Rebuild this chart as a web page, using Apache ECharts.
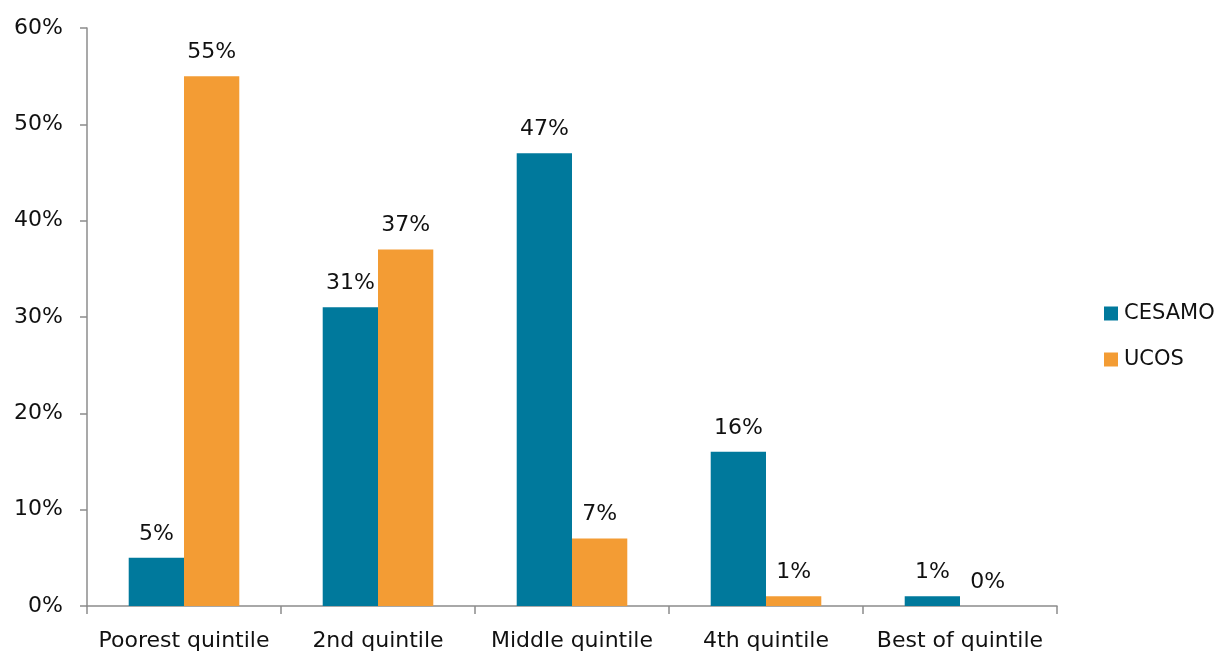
<!DOCTYPE html>
<html>
<head>
<meta charset="utf-8">
<script src="https://cdn.jsdelivr.net/npm/echarts@6/dist/echarts.min.js"></script>
<style>html,body{margin:0;padding:0;background:#fff;}#c{width:1219px;height:652px;}</style>
</head>
<body>
<div id="c"></div>
<script>
const categories = ['Poorest quintile', '2nd quintile', 'Middle quintile', '4th quintile', 'Best of quintile'];
const cesamo = [5, 31, 47, 16, 1];
const ucos = [55, 37, 7, 1, 0];
const FONT = 'DejaVu Sans';
const chart = echarts.init(document.getElementById('c'));
const labelCfg = {show: true, position: 'top', distance: 13, formatter: '{c}%', color: '#111', fontSize: 22, fontFamily: FONT};
chart.setOption({
  animation: false,
  textStyle: {fontFamily: FONT},
  grid: {left: 87, right: 162, top: 28, bottom: 46, containLabel: false},
  legend: {
    orient: 'vertical', left: 1099, top: 298, itemWidth: 14, itemHeight: 14, itemGap: 25,
    icon: 'rect',
    textStyle: {fontSize: 21, color: '#111', fontFamily: FONT, padding: [0, 0, 0, 1]},
    data: ['CESAMO', 'UCOS']
  },
  xAxis: {
    type: 'category', data: categories,
    axisLine: {lineStyle: {color: '#8c8c8c', width: 1.5}},
    axisTick: {show: true, length: 8, lineStyle: {color: '#8c8c8c', width: 1.5}},
    axisLabel: {color: '#111', fontSize: 22, margin: 24, interval: 0, fontFamily: FONT}
  },
  yAxis: {
    type: 'value', min: 0, max: 60, interval: 10,
    splitLine: {show: false},
    axisLine: {show: true, lineStyle: {color: '#8c8c8c', width: 1.5}},
    axisTick: {show: true, length: 7, lineStyle: {color: '#8c8c8c', width: 1.5}},
    axisLabel: {formatter: '{value}%', color: '#111', fontSize: 22, margin: 24, fontFamily: FONT}
  },
  series: [
    {name: 'CESAMO', type: 'bar', data: cesamo, barGap: '0%', barCategoryGap: '43%', itemStyle: {color: '#00799c'}, label: labelCfg},
    {name: 'UCOS', type: 'bar', data: ucos, itemStyle: {color: '#f39c34'}, label: labelCfg}
  ]
});
</script>
</body>
</html>
